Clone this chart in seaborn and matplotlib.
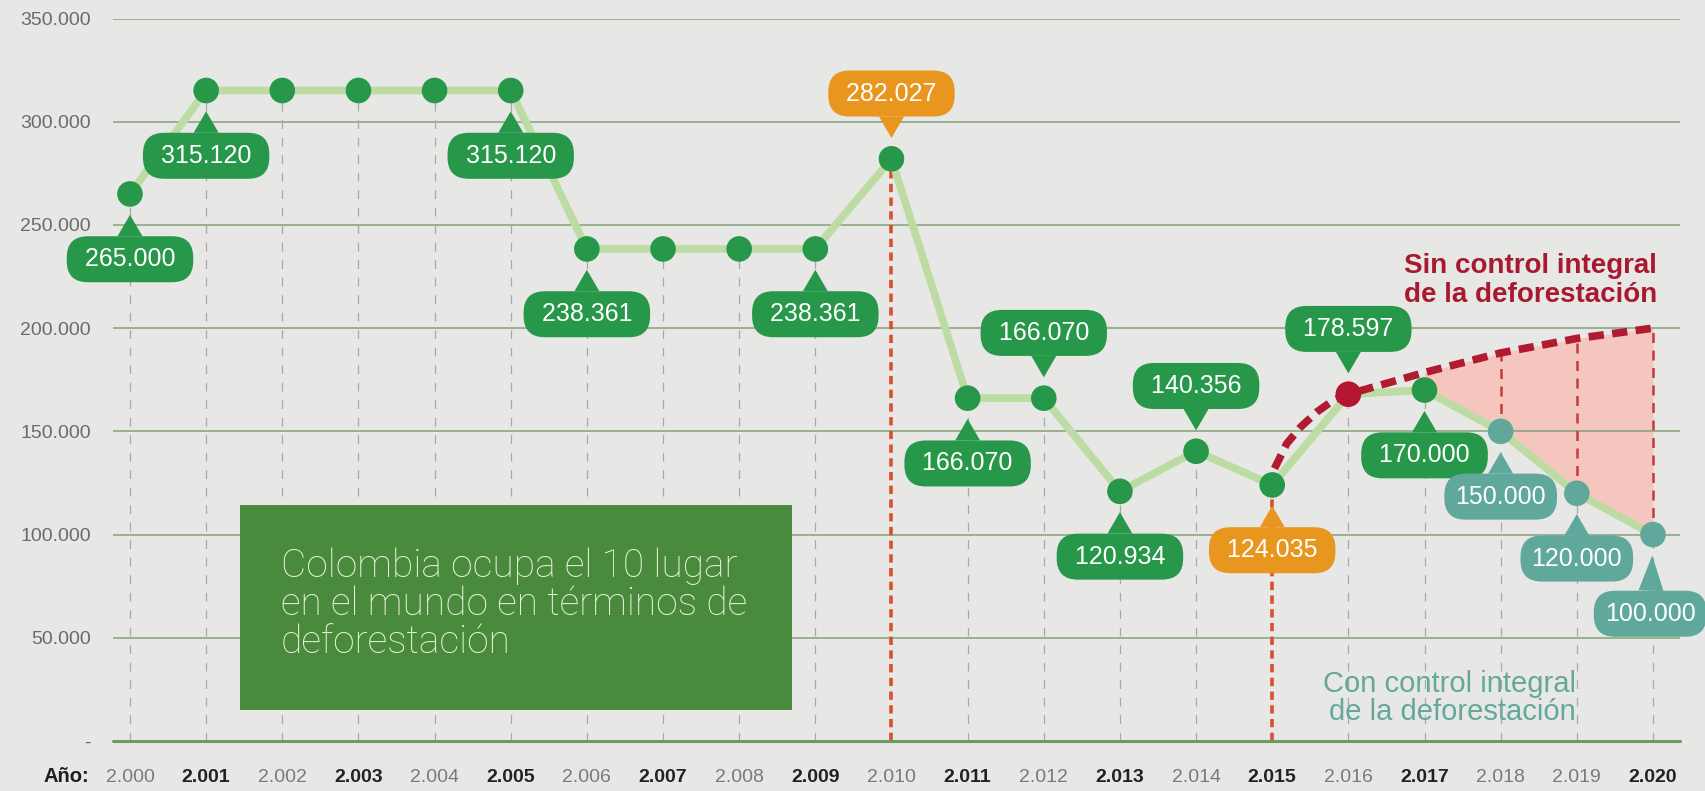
import matplotlib
matplotlib.use("Agg")
import matplotlib.pyplot as plt
from matplotlib.patches import Rectangle
import seaborn as sns

# serie principal (hectareas deforestadas por año)
anios = list(range(2000, 2021))
deforestacion = [265000, 315120, 315120, 315120, 315120, 315120,
                 238361, 238361, 238361, 238361, 282027,
                 166070, 166070, 120934, 140356, 124035,
                 168000, 170000, 150000, 120000, 100000]
# 2016 = punto de quiebre (rojo), 2018-2020 = metas (azul verdoso)
tipo_punto = ["historico"] * 16 + ["quiebre", "historico"] + ["meta"] * 3

# etiquetas tipo globo
anios_etiqueta = [2000, 2001, 2005, 2006, 2009, 2010, 2011, 2012,
                  2013, 2014, 2015, 2016, 2017, 2018, 2019, 2020]
cifras_etiqueta = [265000, 315120, 315120, 238361, 238361, 282027, 166070, 166070,
                   120934, 140356, 124035, 178597, 170000, 150000, 120000, 100000]
lado_etiqueta = ["abajo", "abajo", "abajo", "abajo", "abajo", "arriba", "abajo", "arriba",
                 "abajo", "arriba", "abajo", "arriba", "abajo", "abajo", "abajo", "abajo"]
grupo_etiqueta = ["verde"] * 5 + ["naranja"] + ["verde"] * 4 + ["naranja"] + ["verde"] * 2 + ["azul"] * 3

# proyeccion sin control integral
anios_sin_control = [2015.03, 2015.19, 2015.37, 2015.59, 2015.8, 2016, 2017, 2018, 2019, 2020]
sin_control = [132000, 144000, 152000, 159500, 165000, 168000, 178500, 188000, 195000, 200000]

anios_corte = [2010, 2015]
anios_resaltados = [2001, 2003, 2005, 2007, 2009, 2011, 2013, 2015, 2017, 2020]
marcas_y = [0, 50000, 100000, 150000, 200000, 250000, 300000, 350000]

texto_recuadro = ["Colombia ocupa el 10 lugar", "en el mundo en términos de", "deforestación"]
texto_sin = ["Sin control integral", "de la deforestación"]
texto_con = ["Con control integral", "de la deforestación"]


def miles(v):
    return f"{v:,}".replace(",", ".")


W, H = 1706, 791
fondo = "#e7e7e5"
colores = {"verde": "#27984a", "naranja": "#e8961e", "azul": "#5fa89b"}

sns.set_theme(style="white", rc={"axes.facecolor": fondo, "figure.facecolor": fondo})
plt.rcParams["font.family"] = ["Liberation Sans", "DejaVu Sans"]

fig = plt.figure(figsize=(W / 100, H / 100), dpi=100)
ax = fig.add_axes([113 / W, 1 - 741 / H, 1567 / W, 722.5 / H])

# fondo rosado entre proyeccion y meta
ax.fill_between(anios[-4:], deforestacion[-4:], sin_control[-4:],
                color="#f5c6bd", lw=0, zorder=0.3)

# lineas verticales punteadas
normales = [(a, v) for a, v in zip(anios, deforestacion) if a not in anios_corte]
ax.vlines([a for a, _ in normales], 0, [v for _, v in normales],
          color="#a8a8a8", lw=0.9, linestyles=(0, (7, 7)), zorder=0.6)
ax.vlines(anios_corte, 0, [deforestacion[anios.index(a)] for a in anios_corte],
          color="#d9502f", lw=2.6, linestyles=(0, (2.3, 1.5)), zorder=1)
ax.vlines(anios[-3:], deforestacion[-3:], sin_control[-3:],
          color="#c43b3d", lw=1.8, linestyles=(0, (4, 3)), zorder=1)

sns.lineplot(x=anios, y=deforestacion, color="#bddca3", lw=5.5, ax=ax, zorder=2)
sns.lineplot(x=anios_sin_control, y=sin_control, color="#b01b2f", lw=5.5,
             linestyle=(0, (2.0, 1.1)), ax=ax, zorder=2.5)
sns.scatterplot(x=anios, y=deforestacion, hue=tipo_punto,
                palette={"historico": "#27984a", "quiebre": "#b3162e", "meta": "#5fa89b"},
                s=340, linewidth=0, legend=False, ax=ax, zorder=4)

posicion = dict(zip(anios, deforestacion))
for anio, cifra, lado, grupo in zip(anios_etiqueta, cifras_etiqueta, lado_etiqueta, grupo_etiqueta):
    c = colores[grupo]
    dx, dy = 0, (47 if lado == "arriba" else -47)
    if anio == 2020:
        dx, dy = -2, -57
    relleno = " " if grupo != "azul" else ""
    ax.annotate(relleno + miles(cifra) + relleno, xy=(anio, posicion[anio]),
                xytext=(dx, dy), textcoords="offset points",
                ha="center", va="center", fontsize=18, color="white", zorder=3,
                bbox=dict(boxstyle="round,pad=0.44,rounding_size=0.85", fc=c, ec=c, lw=0),
                arrowprops=dict(arrowstyle="wedge,tail_width=1.0", fc=c, ec=c, lw=0,
                                shrinkA=0, shrinkB=15))

# ejes
ax.set_xlim(1999.777, 2020.355)
ax.set_ylim(0, 350000)
ax.set_yticks(marcas_y)
ax.set_yticklabels(["-"] + [miles(v) for v in marcas_y[1:]])
ax.set_xticks(anios)
ax.set_xticklabels([miles(a) for a in anios])
ax.set_xlabel("")
ax.set_ylabel("")
sns.despine(ax=ax, left=True, bottom=True)
ax.grid(axis="y", color="#86a079", lw=1.1)
ax.grid(axis="x", visible=False)
ax.axhline(0, color="#6f9a5a", lw=2.2, clip_on=False, zorder=1.5)
ax.tick_params(length=0)
ax.tick_params(axis="y", pad=16, labelsize=14, labelcolor="#6b6b6b")
ax.tick_params(axis="x", pad=29.5, labelsize=14)
for lab, a in zip(ax.get_xticklabels(), anios):
    lab.set_va("baseline")
    if a in anios_resaltados:
        lab.set_fontweight("bold")
        lab.set_color("#222222")
    else:
        lab.set_color("#7a7a7a")

fig.text(43 / W, 1 - 782 / H, "Año:", fontsize=14.5, fontweight="bold",
         color="#1e1e1e", va="baseline", ha="left")

# recuadro verde
fig.add_artist(Rectangle((240 / W, 1 - 710 / H), 552 / W, 205 / H,
                         transform=fig.transFigure, fc="#4a8a3c", ec="none", zorder=5))
for i, linea in enumerate(texto_recuadro):
    fig.text(281 / W, 1 - (577 + 38 * i) / H, linea, fontsize=28, color="#e6f4dc",
             family=["Roboto", "Liberation Sans"], fontweight="light",
             va="baseline", ha="left", zorder=6)

for i, linea in enumerate(texto_sin):
    fig.text(1657 / W, 1 - (273 + 29 * i) / H, linea, fontsize=20, fontweight="bold",
             color="#a8182e", va="baseline", ha="right", zorder=6)
for i, linea in enumerate(texto_con):
    fig.text(1576 / W, 1 - (692 + 28 * i) / H, linea, fontsize=21,
             color="#63a89a", va="baseline", ha="right", zorder=6)

fig.savefig("out.png", dpi=100, facecolor=fondo)
